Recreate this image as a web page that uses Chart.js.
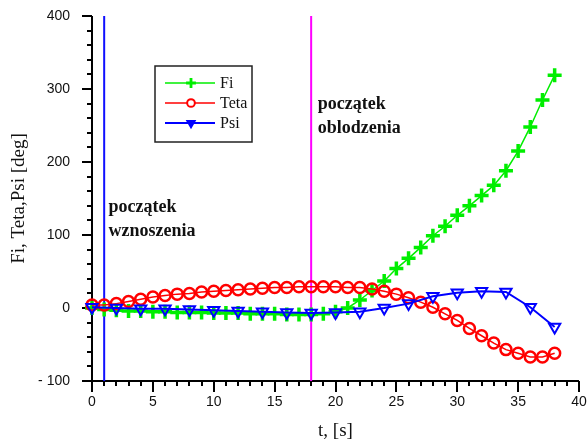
<!DOCTYPE html>
<html>
<head>
<meta charset="utf-8">
<script src="https://cdn.jsdelivr.net/npm/chart.js@4.4.0/dist/chart.umd.min.js"></script>
<style>
  html, body { margin: 0; padding: 0; background: #ffffff; }
  #wrap { width: 588px; height: 444px; }
</style>
</head>
<body>
<div id="wrap"><canvas id="c" width="588" height="444"></canvas></div>
<script>
// Time samples [s] and angles [deg]
const timeFi = [0,1,2,3,4,5,6,7,8,9,10,11,12,13,14,15,16,17,18,19,20,21,22,23,24,25,26,27,28,29,30,31,32,33,34,35,36,37,38];
const fi = [0,-2,-3,-4,-4,-5,-5,-6,-6,-6,-7,-7,-7,-8,-8,-8,-9,-9,-9,-8,-5,0,11,24,37,54,68,83,99,112,127,140,154,168,188,215,248,285,319];

const timeTeta = [0,1,2,3,4,5,6,7,8,9,10,11,12,13,14,15,16,17,18,19,20,21,22,23,24,25,26,27,28,29,30,31,32,33,34,35,36,37,38];
const teta = [4,4,6,9,12,15,17,19,20,22,23,24,25,26,27,28,28,29,29,29,29,28,28,26,23,19,14,8,1,-8,-17,-28,-38,-48,-57,-62,-67,-67,-62];

const timePsi = [0,2,4,6,8,10,12,14,16,18,20,22,24,26,28,30,32,34,36,38];
const psi = [1,0,-1,-1,-2,-3,-4,-5,-6,-7,-6,-5,0,6,16,21,23,22,1,-26];

// Event markers: start of climb, start of icing
const eventTimes = [1, 18];
const eventLabels = [['początek', 'wznoszenia'], ['początek', 'oblodzenia']];
const eventLabelAnchor = [{ t: 1.35, v: 132 }, { t: 18.55, v: 272 }];

const seriesNames = ['Fi', 'Teta', 'Psi'];
const xTitle = 't, [s]';
const yTitle = 'Fi, Teta,Psi [deg]';
const xRange = [0, 40];
const yRange = [-100, 400];

const SERIF = '"Liberation Serif", "Times New Roman", serif';
const SANS = '"Liberation Sans", Arial, sans-serif';

const toPoints = (ts, vs) => ts.map((t, i) => ({ x: t, y: vs[i] }));

const styles = {
  Fi:   { color: '#00ee00', pointStyle: 'cross', radius: 7, pointBorderWidth: 3.5, lineWidth: 1.5, rotation: 0, fill: 'rgba(0,0,0,0)' },
  Teta: { color: '#ff0000', pointStyle: 'circle', radius: 5.5, pointBorderWidth: 2.5, lineWidth: 1.5, rotation: 0, fill: 'rgba(0,0,0,0)' },
  Psi:  { color: '#0000ff', pointStyle: 'triangle', radius: 6.5, pointBorderWidth: 2, lineWidth: 2, rotation: 180, fill: 'rgba(0,0,0,0)' }
};

function seriesDataset(name, ts, vs, order) {
  const s = styles[name];
  return {
    label: name,
    data: toPoints(ts, vs),
    borderColor: s.color,
    borderWidth: s.lineWidth,
    backgroundColor: 'rgba(0,0,0,0)',
    pointStyle: s.pointStyle,
    pointRadius: s.radius,
    pointBorderWidth: s.pointBorderWidth,
    pointBorderColor: s.color,
    pointBackgroundColor: s.fill,
    pointRotation: s.rotation,
    tension: 0,
    clip: false,
    order: order
  };
}

function eventDataset(t, color) {
  return {
    label: '',
    data: [{ x: t, y: yRange[0] }, { x: t, y: yRange[1] }],
    borderColor: color,
    borderWidth: 2,
    pointRadius: 0,
    order: 10
  };
}

// Axis lines with major and minor ticks
const frameAxes = {
  id: 'frameAxes',
  beforeDatasetsDraw(chart) {
    const { ctx, scales: { x, y } } = chart;
    const x0 = x.getPixelForValue(xRange[0]);
    const x1 = x.getPixelForValue(xRange[1]);
    const yb = y.getPixelForValue(yRange[0]);
    const yt = y.getPixelForValue(yRange[1]);
    ctx.save();
    ctx.strokeStyle = '#000';
    ctx.lineWidth = 2;
    ctx.beginPath();
    ctx.moveTo(x0, yt); ctx.lineTo(x0, yb);
    ctx.moveTo(x0, yb); ctx.lineTo(x1, yb);
    ctx.stroke();
    ctx.beginPath();
    for (let v = yRange[0]; v <= yRange[1]; v += 20) {
      const py = Math.round(y.getPixelForValue(v));
      const major = v % 100 === 0;
      ctx.moveTo(x0, py); ctx.lineTo(x0 - (major ? 10 : 5), py);
    }
    for (let t = xRange[0]; t <= xRange[1]; t += 1) {
      const px = Math.round(x.getPixelForValue(t));
      const major = t % 5 === 0;
      ctx.moveTo(px, yb); ctx.lineTo(px, yb + (major ? 11 : 5));
    }
    ctx.stroke();
    ctx.restore();
  }
};

// Event captions
const eventCaptions = {
  id: 'eventCaptions',
  afterDatasetsDraw(chart) {
    const { ctx, scales: { x, y } } = chart;
    ctx.save();
    ctx.fillStyle = '#111';
    ctx.font = 'bold 18px ' + SERIF;
    ctx.textAlign = 'left';
    ctx.textBaseline = 'alphabetic';
    eventLabels.forEach((lines, i) => {
      const a = eventLabelAnchor[i];
      const px = x.getPixelForValue(a.t);
      const py = y.getPixelForValue(a.v);
      lines.forEach((s, k) => ctx.fillText(s, px, py + k * 24));
    });
    ctx.restore();
  }
};

// Boxed legend inside the plot
const boxLegend = {
  id: 'boxLegend',
  afterDraw(chart) {
    const { ctx } = chart;
    const bx = 155, by = 66, bw = 97, bh = 76;
    ctx.save();
    ctx.fillStyle = '#fff';
    ctx.fillRect(bx, by, bw, bh);
    ctx.strokeStyle = '#222';
    ctx.lineWidth = 1.5;
    ctx.strokeRect(bx, by, bw, bh);
    ctx.font = '16px ' + SERIF;
    ctx.textBaseline = 'middle';
    seriesNames.forEach((name, i) => {
      const s = styles[name];
      const ry = by + 17 + i * 20;
      ctx.strokeStyle = s.color;
      ctx.lineWidth = s.lineWidth;
      ctx.beginPath();
      ctx.moveTo(bx + 10, ry); ctx.lineTo(bx + 60, ry);
      ctx.stroke();
      ctx.lineWidth = s.pointBorderWidth * 0.8;
      ctx.fillStyle = name === 'Psi' ? s.color : '#fff';
      Chart.helpers.drawPoint(ctx, {
        pointStyle: s.pointStyle,
        radius: s.radius * 0.7,
        rotation: s.rotation,
        borderWidth: s.pointBorderWidth * 0.8
      }, bx + 36, ry);
      ctx.fillStyle = '#111';
      ctx.fillText(name, bx + 65, ry + 1);
    });
    ctx.restore();
  }
};

const datasets = [
  seriesDataset('Psi', timePsi, psi, 0),
  seriesDataset('Teta', timeTeta, teta, 1),
  seriesDataset('Fi', timeFi, fi, 2),
  eventDataset(eventTimes[0], '#1010ff'),
  eventDataset(eventTimes[1], '#ff00ff')
];

new Chart(document.getElementById('c'), {
  type: 'line',
  data: { datasets },
  options: {
    responsive: false,
    animation: false,
    devicePixelRatio: 1,
    layout: { autoPadding: false, padding: 0 },
    plugins: { legend: { display: false }, tooltip: { enabled: false } },
    scales: {
      x: {
        type: 'linear',
        min: xRange[0], max: xRange[1],
        grid: { display: false, drawTicks: false },
        border: { display: false },
        ticks: { stepSize: 5, padding: 13, color: '#111', font: { family: SANS, size: 14 }, maxRotation: 0, autoSkip: false },
        title: { display: true, text: xTitle, color: '#111', font: { family: SERIF, size: 19 }, padding: { top: 0, bottom: 2 } },
        afterFit(s) { s.height = 63; s.paddingLeft = 0; s.paddingRight = 9; }
      },
      y: {
        type: 'linear',
        min: yRange[0], max: yRange[1],
        grid: { display: false, drawTicks: false },
        border: { display: false },
        ticks: {
          stepSize: 100, padding: 22, color: '#111', font: { family: SANS, size: 14 },
          callback: v => (v < 0 ? '- ' + Math.abs(v) : String(v))
        },
        title: { display: true, text: yTitle, color: '#111', font: { family: SERIF, size: 19 }, padding: { top: 8, bottom: 0 } },
        afterFit(s) { s.width = 92; s.paddingTop = 16; s.paddingBottom = 0; }
      }
    }
  },
  plugins: [frameAxes, eventCaptions, boxLegend]
});
</script>
</body>
</html>
